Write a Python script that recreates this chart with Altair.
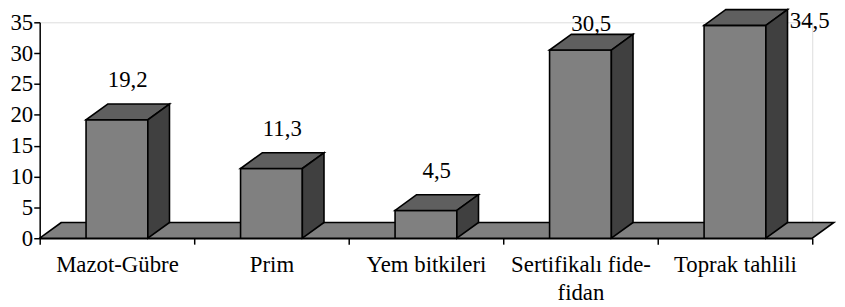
import json
import altair as alt
import pandas as pd

# ---- data ----
categories = ["Mazot-Gübre", "Prim", "Yem bitkileri", "Sertifikalı fide-\nfidan", "Toprak tahlili"]
values = [19.2, 11.3, 4.5, 30.5, 34.5]
y_ticks = [0, 5, 10, 15, 20, 25, 30, 35]

# ---- 3-D style geometry (in scale units) ----
BAR_W = 0.4      # fraction of a category
DEPTH_X = 0.14   # depth shift to the right (category units)
DEPTH_Y = 2.55   # depth shift upwards (value units)
N = len(categories)
Y_MAX = 35
FONT = "Times New Roman, Liberation Serif, DejaVu Serif, serif"
FS = 23
STROKE = "black"
SW = 1.6

front_rows, top_rows, side_rows = [], [], []
lab_c, lab_r = [], []
for i, v in enumerate(values):
    x0 = i + 0.5 - BAR_W / 2
    x1 = i + 0.5 + BAR_W / 2
    front_rows.append({"bar": i, "x": x0, "x2": x1, "y": 0, "y2": v})
    top_rows += [
        {"bar": i, "y": v, "x": x0, "x2": x1},
        {"bar": i, "y": v + DEPTH_Y, "x": x0 + DEPTH_X, "x2": x1 + DEPTH_X},
    ]
    side_rows += [
        {"bar": i, "x": x1, "y": 0, "y2": v},
        {"bar": i, "x": x1 + DEPTH_X, "y": DEPTH_Y, "y2": v + DEPTH_Y},
    ]
    text = f"{v}".replace(".", ",")
    back_top = v + DEPTH_Y
    if back_top > 33.5:
        lab_r.append({"x": x1 + DEPTH_X + 0.015, "y": v - 0.5, "t": text})
    else:
        lab_c.append({"x": i + 0.5 + DEPTH_X / 2, "y": min(back_top + 2.75, 33.55), "t": text})

floor_rows = [
    {"y": 0, "x": 0, "x2": N},
    {"y": DEPTH_Y, "x": DEPTH_X, "x2": N + DEPTH_X},
]

front = pd.DataFrame(front_rows)
top = pd.DataFrame(top_rows)
side = pd.DataFrame(side_rows)
floor = pd.DataFrame(floor_rows)
labc = pd.DataFrame(lab_c)
labr = pd.DataFrame(lab_r)

xscale = alt.Scale(domain=[0, N], nice=False, zero=False)
yscale = alt.Scale(domain=[0, Y_MAX], nice=False, zero=True)

x_values = [k / 2 for k in range(0, 2 * N + 1)]
label_expr = (
    "datum.value % 1 ? split(" + json.dumps(categories, ensure_ascii=False)
    + "[floor(datum.value)], '\\n') : ''"
)
xaxis = alt.Axis(
    values=x_values, labelExpr=label_expr, title=None, grid=False,
    tickSize=6, tickColor="black", tickWidth=1.5,
    tickOpacity={"condition": {"test": "datum.value % 1 != 0", "value": 0}, "value": 1},
    domainColor="black", domainWidth=1.5,
    labelFont=FONT, labelFontSize=FS, labelColor="black", labelPadding=10,
    labelLineHeight=28, labelOverlap=False, labelFlush=False, labelBound=False,
    labelBaseline="top",
)
yaxis = alt.Axis(
    values=y_ticks, title=None, grid=False, tickSize=6, tickColor="black", tickWidth=1.5,
    domainColor="black", domainWidth=1.5,
    labelFont=FONT, labelFontSize=FS, labelColor="black", labelPadding=1,
    labelOverlap=False, labelFlush=False, labelBound=False,
)

floor_l = alt.Chart(floor).mark_area(
    orient="horizontal", fill="#808080", stroke=STROKE, strokeWidth=SW, strokeJoin="miter"
).encode(
    y=alt.Y("y:Q", scale=yscale, axis=yaxis),
    x=alt.X("x:Q", scale=xscale, axis=xaxis),
    x2="x2:Q",
)

front_l = alt.Chart(front).mark_rect(
    fill="#808080", stroke=STROKE, strokeWidth=SW, strokeJoin="miter"
).encode(
    x=alt.X("x:Q", scale=xscale, axis=xaxis), x2="x2:Q",
    y=alt.Y("y:Q", scale=yscale, axis=yaxis), y2="y2:Q",
)

top_l = alt.Chart(top).mark_area(
    orient="horizontal", fill="#5f5f5f", stroke=STROKE, strokeWidth=SW, strokeJoin="miter"
).encode(
    y=alt.Y("y:Q", scale=yscale, axis=yaxis),
    x=alt.X("x:Q", scale=xscale, axis=xaxis), x2="x2:Q",
    detail="bar:N",
)

side_l = alt.Chart(side).mark_area(
    orient="vertical", fill="#404040", stroke=STROKE, strokeWidth=SW, strokeJoin="miter"
).encode(
    x=alt.X("x:Q", scale=xscale, axis=xaxis),
    y=alt.Y("y:Q", scale=yscale, axis=yaxis), y2="y2:Q",
    detail="bar:N",
)

text_c = alt.Chart(labc).mark_text(
    font=FONT, fontSize=FS, color="black", align="center", baseline="alphabetic"
).encode(
    x=alt.X("x:Q", scale=xscale, axis=xaxis),
    y=alt.Y("y:Q", scale=yscale, axis=yaxis),
    text="t:N",
)

text_r = alt.Chart(labr).mark_text(
    font=FONT, fontSize=FS, color="black", align="left", baseline="alphabetic"
).encode(
    x=alt.X("x:Q", scale=xscale, axis=xaxis),
    y=alt.Y("y:Q", scale=yscale, axis=yaxis),
    text="t:N",
)

chart = alt.layer(floor_l, front_l, top_l, side_l, text_c, text_r).properties(
    width=780, height=218,
    padding={"left": 32, "top": 13, "right": 25, "bottom": 68},
    autosize=alt.AutoSizeParams(type="none"),
).configure_view(stroke=None).configure(background="white")

chart.save("out.html", embed_options={"renderer": "svg", "actions": False})
